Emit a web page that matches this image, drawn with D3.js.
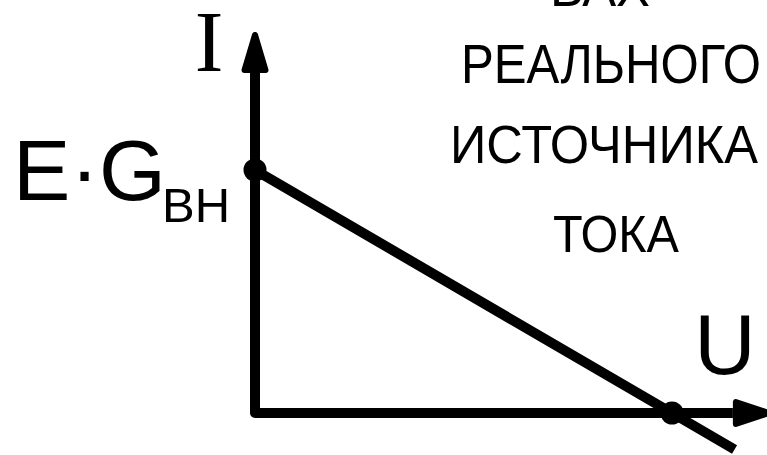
<!DOCTYPE html>
<html>
<head>
<meta charset="utf-8">
<script src="https://cdn.jsdelivr.net/npm/d3@7"></script>
<style>
  body { margin: 0; background: #fff; }
  svg { display: block; }
</style>
</head>
<body>
<svg id="drawing_region"></svg>
<script>
// characteristic line (U in units of E, I in units of E*G)
var lineU = [0, 1, 1.15];
var lineI = [1, 0, -0.15];
// marked points: short circuit current and open circuit voltage
var markU = [0, 1];
var markI = [1, 0];
// axis extents (arrow base, arrow tip)
var uAxis = [1.146, 1.24];
var iAxis = [1.399, 1.568];

var titleLines = ['ВАХ', 'РЕАЛЬНОГО', 'ИСТОЧНИКА', 'ТОКА'];

var width = 767, height = 455;

var svg = d3.select('#drawing_region')
    .attr('width', width)
    .attr('height', height);

var x = d3.scaleLinear().domain([0, 1]).range([255, 672]);
var y = d3.scaleLinear().domain([0, 1]).range([413, 170]);

// axes
svg.append('path')
    .attr('d', `M${x(0)},${y(iAxis[0])} L${x(0)},${y(0)} L${x(uAxis[0])},${y(0)}`)
    .attr('fill', 'none')
    .attr('stroke', '#000')
    .attr('stroke-width', 10)
    .attr('stroke-linejoin', 'round');

// arrow heads
var yBase = y(iAxis[0]), yTip = y(iAxis[1]);
svg.append('path')
    .attr('d', `M${x(0)},${yTip + 3} L${x(0) + 10.5},${yBase - 3} L${x(0) - 10.5},${yBase - 3} Z`)
    .attr('fill', '#000').attr('stroke', '#000')
    .attr('stroke-width', 6).attr('stroke-linejoin', 'round');

var xBase = x(uAxis[0]), xTip = x(uAxis[1]);
svg.append('path')
    .attr('d', `M${xTip - 3},${y(0)} L${xBase + 3},${y(0) - 11} L${xBase + 3},${y(0) + 11} Z`)
    .attr('fill', '#000').attr('stroke', '#000')
    .attr('stroke-width', 6).attr('stroke-linejoin', 'round');

// characteristic
var pts = lineU.map((u, i) => [u, lineI[i]]);
svg.append('path')
    .datum(pts)
    .attr('d', d3.line().x(d => x(d[0])).y(d => y(d[1])))
    .attr('fill', 'none')
    .attr('stroke', '#000')
    .attr('stroke-width', 10);

svg.selectAll('circle.mark')
    .data(markU.map((u, i) => [u, markI[i]]))
    .enter().append('circle')
    .attr('class', 'mark')
    .attr('cx', d => x(d[0]))
    .attr('cy', d => y(d[1]))
    .attr('r', 11.5)
    .attr('fill', '#000');

// labels
var sans = 'Liberation Sans, Arial, sans-serif';

svg.append('text')
    .attr('x', 209).attr('y', 71)
    .attr('text-anchor', 'middle')
    .attr('font-family', 'Liberation Serif, Times New Roman, serif')
    .attr('font-size', 86)
    .text('I');

svg.append('text')
    .attr('x', 13).attr('y', 200)
    .attr('font-family', sans)
    .attr('font-size', 86)
    .text('E·G');

svg.append('text')
    .attr('x', 162).attr('y', 222)
    .attr('font-family', sans)
    .attr('font-size', 49)
    .text('ВН');

svg.append('text')
    .attr('x', 725).attr('y', 374)
    .attr('text-anchor', 'middle')
    .attr('font-family', sans)
    .attr('font-size', 85)
    .text('U');

var titleX = [600, 611, 604, 616];
var titleY = [6, 83, 163, 252];
var titleW = [100, 300, 308, 126];
var titleSize = [54, 56, 53, 52];

svg.selectAll('text.title')
    .data(titleLines)
    .enter().append('text')
    .attr('class', 'title')
    .attr('x', (d, i) => titleX[i] - titleW[i] / 2)
    .attr('y', (d, i) => titleY[i])
    .attr('font-family', sans)
    .attr('font-size', (d, i) => titleSize[i])
    .attr('textLength', (d, i) => titleW[i])
    .attr('lengthAdjust', 'spacingAndGlyphs')
    .text(d => d);
</script>
</body>
</html>
